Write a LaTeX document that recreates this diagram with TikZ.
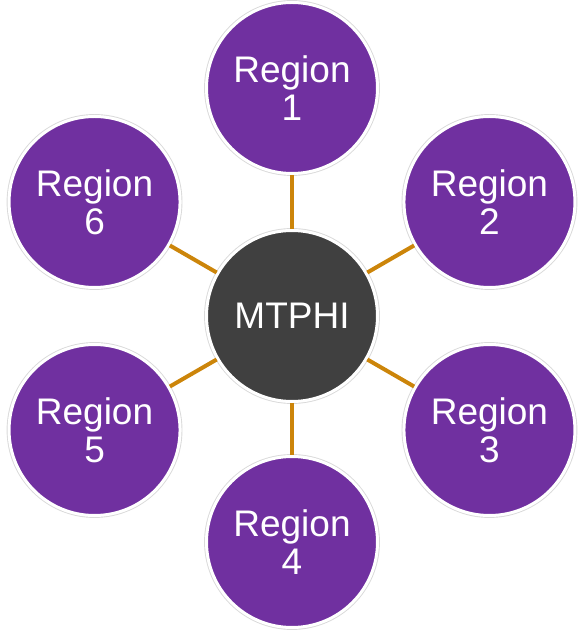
\documentclass[tikz,border=0pt]{standalone}
\usepackage{fontspec}
\setmainfont{Liberation Sans}
\definecolor{regpurple}{HTML}{7030A0}
\definecolor{hubgray}{HTML}{404040}
\definecolor{linkorange}{HTML}{CC850A}
\begin{document}
\begin{tikzpicture}[x=0.5pt,y=0.5pt,
	disc/.style={circle,minimum size=85.5pt,inner sep=0pt,align=center,text=white,
		font=\fontsize{18.5}{19}\selectfont,draw=white,line width=1.5pt,
		preaction={draw=black!15,line width=2.4pt}},
	reg/.style={disc,fill=regpurple},
	hub/.style={disc,fill=hubgray},
	link/.style={draw=linkorange,line width=2pt}]
	\useasboundingbox (-292,-314) rectangle (285,316);
	\node[hub] (mtphi) at (0,0) {MTPHI};
	\node[reg] (r1) at (90:228) {Region\\1};
	\node[reg] (r2) at (30:228) {Region\\2};
	\node[reg] (r3) at (-30:228) {Region\\3};
	\node[reg] (r4) at (-90:226) {Region\\4};
	\node[reg] (r5) at (-150:228) {Region\\5};
	\node[reg] (r6) at (150:228) {Region\\6};

	\foreach \r in {r1,r2,r3,r4,r5,r6}
		\draw[link] (mtphi) -- (\r);
\end{tikzpicture}
\end{document}
